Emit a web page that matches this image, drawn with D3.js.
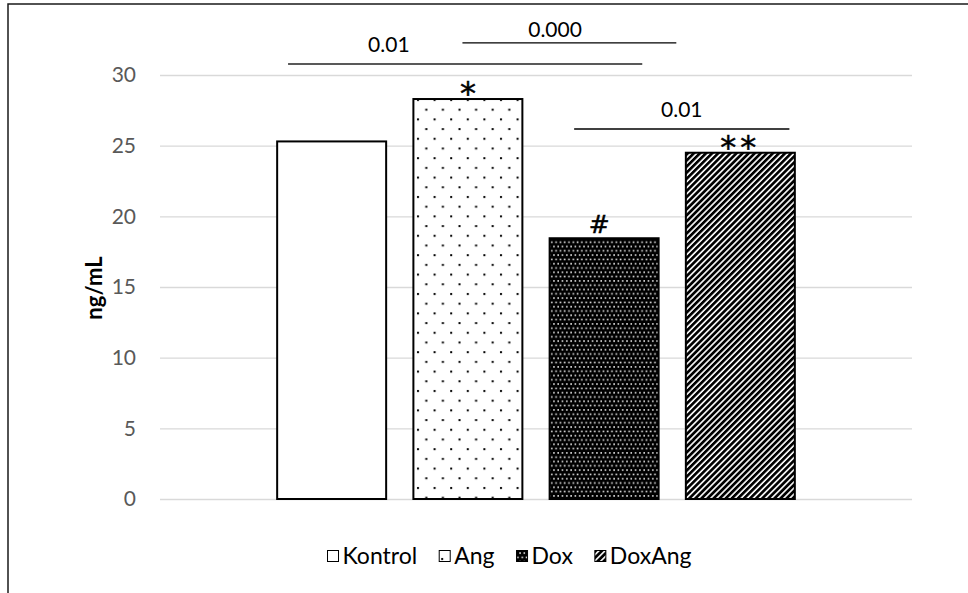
<!DOCTYPE html>
<html>
<head>
<meta charset="utf-8">
<script src="https://cdn.jsdelivr.net/npm/d3@7"></script>
<style>
  html, body { margin: 0; padding: 0; background: #fff; }
  svg { display: block; font-family: Lato, "Open Sans", sans-serif; }
</style>
</head>
<body>
<svg id="chart" width="968" height="593"></svg>
<script>
// Serum level per group (ng/mL)
const series = ["Kontrol", "Ang", "Dox", "DoxAng"];
const values = [25.3, 28.3, 18.45, 24.5];
const fills = ["#ffffff", "url(#pDots)", "url(#pDark)", "url(#pStripe)"];
const markers = ["", "*", "#", "**"];
const yTicks = [0, 5, 10, 15, 20, 25, 30];
const yTitle = "ng/mL";

// Significance brackets: span in bar-step units from the first bar's left edge, level in ng/mL
const sigLabels = ["0.01", "0.000", "0.01"];
const sigFrom = [0.08, 1.36, 2.18];
const sigTo = [2.68, 2.93, 3.76];
const sigLevel = [30.78, 32.27, 26.18];
const sigLabelAt = [0.82, 2.04, 2.97];
const sigLabelLevel = [31.63, 32.69, 27.03];
const sigStroke = ["#595959", "#000", "#000"];
const sigWidth = [2, 1.3, 1.3];

const FS = 21;
const svg = d3.select("#chart");
const defs = svg.append("defs");

// fine black dots on white
const p1 = defs.append("pattern").attr("id", "pDots").attr("patternUnits", "userSpaceOnUse")
  .attr("width", 16.6).attr("height", 19.4);
p1.append("rect").attr("width", 16.6).attr("height", 19.4).attr("fill", "#fff");
p1.append("rect").attr("x", 2).attr("y", 2).attr("width", 2).attr("height", 2).attr("fill", "#000");
p1.append("rect").attr("x", 10.3).attr("y", 11.7).attr("width", 2).attr("height", 2).attr("fill", "#000");

// white dots on black
const p2 = defs.append("pattern").attr("id", "pDark").attr("patternUnits", "userSpaceOnUse")
  .attr("width", 4.3).attr("height", 8.6);
p2.append("rect").attr("width", 4.3).attr("height", 8.6).attr("fill", "#000");
p2.append("rect").attr("x", 0.6).attr("y", 0.6).attr("width", 1.6).attr("height", 1.6).attr("fill", "#e8e8e8");
p2.append("rect").attr("x", 2.75).attr("y", 4.9).attr("width", 1.6).attr("height", 1.6).attr("fill", "#e8e8e8");

// upward diagonal stripes
const p3 = defs.append("pattern").attr("id", "pStripe").attr("patternUnits", "userSpaceOnUse")
  .attr("width", 4.3).attr("height", 10).attr("patternTransform", "rotate(45)");
p3.append("rect").attr("width", 4.3).attr("height", 10).attr("fill", "#fff");
p3.append("rect").attr("width", 2.7).attr("height", 10).attr("fill", "#000");

const plot = { left: 160, right: 912, top: 75, bottom: 499 };

const x = d3.scaleBand().domain(series).range([plot.left, plot.right])
  .paddingInner(0.2).paddingOuter(0.86);
const y = d3.scaleLinear().domain([0, 30]).range([plot.bottom, plot.top]);
const bx = p => x(series[0]) + p * x.step();

// outer frame
svg.append("path").attr("d", "M8,600V4H980").attr("fill", "none")
  .attr("stroke", "#1a1a1a").attr("stroke-width", 1.5);

// gridlines + tick labels
const yAxis = d3.axisLeft(y).tickValues(yTicks).tickSize(-(plot.right - plot.left)).tickPadding(24);
const ga = svg.append("g").attr("transform", `translate(${plot.left},0)`).call(yAxis);
ga.select(".domain").remove();
ga.selectAll(".tick line").attr("stroke", "#d9d9d9").attr("stroke-width", 1.3);
ga.selectAll(".tick text").attr("fill", "#595959").attr("font-size", FS)
  .attr("font-family", "Lato, sans-serif");

// y title
svg.append("text").attr("transform", `translate(102,288) rotate(-90)`)
  .attr("text-anchor", "middle").attr("font-size", FS + 1).attr("font-weight", "bold")
  .attr("fill", "#000").text(yTitle);

// bars
svg.append("g").selectAll("rect").data(series).join("rect")
  .attr("x", d => x(d)).attr("width", x.bandwidth())
  .attr("y", (d, i) => y(values[i])).attr("height", (d, i) => y(0) - y(values[i]))
  .attr("fill", (d, i) => fills[i]).attr("stroke", "#000").attr("stroke-width", 2);

// group markers above bars
svg.append("g").selectAll("text").data(series).join("text")
  .attr("x", d => x(d) + x.bandwidth() / 2 + (d === "Dox" ? -5 : 0))
  .attr("y", (d, i) => y(values[i]) + (markers[i] === "#" ? -5 : 5))
  .attr("text-anchor", "middle")
  .attr("font-family", "'DejaVu Sans', sans-serif")
  .attr("font-size", (d, i) => markers[i] === "#" ? 25 : 32)
  .attr("letter-spacing", (d, i) => markers[i] === "**" ? 4 : 0)
  .attr("fill", "#000").attr("stroke", "#000").attr("stroke-width", 0.5)
  .text((d, i) => markers[i]);

// significance brackets
const gs = svg.append("g");
sigLabels.forEach((lab, i) => {
  gs.append("line").attr("x1", bx(sigFrom[i])).attr("x2", bx(sigTo[i]))
    .attr("y1", y(sigLevel[i])).attr("y2", y(sigLevel[i]))
    .attr("stroke", sigStroke[i]).attr("stroke-width", sigWidth[i]);
  gs.append("text").attr("x", bx(sigLabelAt[i])).attr("y", y(sigLabelLevel[i]))
    .attr("text-anchor", "middle").attr("font-size", FS).attr("fill", "#000").text(lab);
});

// legend
const lg = svg.append("g");
let cx = 0;
series.forEach((s, i) => {
  const g = lg.append("g");
  g.append("rect").attr("x", 0).attr("y", -5.5).attr("width", 11).attr("height", 11)
    .attr("fill", fills[i]).attr("stroke", "#000").attr("stroke-width", 1);
  const t = g.append("text").attr("x", 15).attr("y", 8).attr("font-size", 23)
    .attr("fill", "#000").text(s);
  const w = 15 + t.node().getComputedTextLength();
  g.attr("transform", `translate(${cx},0)`);
  cx += w + 22;
});
const legendW = cx - 22;
lg.attr("transform", `translate(${509.5 - legendW / 2},556)`);
</script>
</body>
</html>
